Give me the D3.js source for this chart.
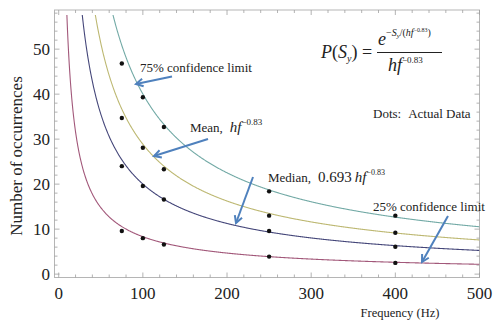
<!DOCTYPE html>
<html lang="en">
<head>
<meta charset="UTF-8">
<title>Occurrences vs Frequency</title>
<script src="https://d3js.org/d3.v7.min.js"></script>
<style>
  body { margin: 0; background: #fff; }
</style>
</head>
<body>
<svg id="chart"></svg>
<script>
// measured data (dots)
const freqs = [75, 100, 125, 250, 400];
const q75Dots = [46.8, 39.3, 32.7, 18.4, 13.0];
const meanDots = [34.7, 28.1, 23.3, 13.0, 9.2];
const medianDots = [24.0, 19.6, 16.6, 9.6, 6.1];
const q25Dots = [9.6, 8.0, 6.6, 3.9, 2.5];

// model curves: factor * h * f^-0.83
const h = 1320;
const expo = -0.83;
const curveNames = ["75%", "Mean", "Median", "25%"];
const curveFactors = [1.386, 1, 0.693, 0.288];
const curveColors = ["#73aaa6", "#bdb872", "#45477a", "#a2587a"];

const xTicks = [0, 100, 200, 300, 400, 500];
const yTicks = [0, 10, 20, 30, 40, 50];

const width = 493, height = 323;
const serif = "'Liberation Serif', 'Times New Roman', 'DejaVu Serif', serif";
const svg = d3.select("#chart").attr("width", width).attr("height", height)
  .attr("font-family", serif);

const x = d3.scaleLinear().domain([-5, 500]).range([54.5, 479.5]);
const y = d3.scaleLinear().domain([-0.75, 58.7]).range([277.5, 10]);

svg.append("defs").append("clipPath").attr("id", "plot")
  .append("rect")
    .attr("x", x(-5)).attr("y", y(57.6))
    .attr("width", x(500) - x(-5)).attr("height", y(-0.75) - y(57.6));

// frame
svg.append("rect")
  .attr("x", x(-5)).attr("y", y(58.7))
  .attr("width", x(500) - x(-5)).attr("height", y(-0.75) - y(58.7))
  .attr("fill", "none").attr("stroke", "#b5b5b5").attr("stroke-width", 1);

// ticks on all four sides, pointing inward
const tickColor = "#a0a0a0";
const xMinor = d3.range(0, 501, 20);
const yMinor = d3.range(0, 59, 2);
const tg = svg.append("g").attr("stroke", tickColor).attr("stroke-width", 0.8);
xMinor.forEach(v => {
  const len = v % 100 === 0 ? 5 : 3;
  tg.append("line").attr("x1", x(v)).attr("x2", x(v)).attr("y1", y(-0.75)).attr("y2", y(-0.75) - len);
  tg.append("line").attr("x1", x(v)).attr("x2", x(v)).attr("y1", y(58.7)).attr("y2", y(58.7) + len);
});
yMinor.forEach(v => {
  const len = v % 10 === 0 ? 5 : 3;
  tg.append("line").attr("y1", y(v)).attr("y2", y(v)).attr("x1", x(-5)).attr("x2", x(-5) + len);
  tg.append("line").attr("y1", y(v)).attr("y2", y(v)).attr("x1", x(500)).attr("x2", x(500) - len);
});

// tick labels
svg.selectAll(".xl").data(xTicks).join("text")
  .attr("x", d => x(d)).attr("y", 299)
  .attr("text-anchor", "middle").attr("font-size", 17).attr("fill", "#222")
  .text(d => d);
svg.selectAll(".yl").data(yTicks).join("text")
  .attr("x", 50).attr("y", d => y(d) + 6)
  .attr("text-anchor", "end").attr("font-size", 17).attr("fill", "#222")
  .text(d => d);

// axis titles
svg.append("text")
  .attr("transform", "translate(22,156) rotate(-90)")
  .attr("text-anchor", "middle").attr("font-size", 17).attr("fill", "#222")
  .text("Number of occurrences");
svg.append("text")
  .attr("x", 400).attr("y", 317)
  .attr("text-anchor", "middle").attr("font-size", 12.5).attr("fill", "#222")
  .text("Frequency (Hz)");

// curves
const fs = d3.range(4, 500.5, 0.5);
const line = d3.line().x(d => x(d[0])).y(d => y(d[1]));
const cg = svg.append("g").attr("clip-path", "url(#plot)");
curveFactors.forEach((k, i) => {
  const pts = fs.map(f => [f, k * h * Math.pow(f, expo)]).filter(p => p[1] < 80);
  cg.append("path")
    .attr("d", line(pts))
    .attr("fill", "none")
    .attr("stroke", curveColors[i])
    .attr("stroke-width", 1.1);
});

// dots
[q75Dots, meanDots, medianDots, q25Dots].forEach(series => {
  svg.append("g").selectAll("circle")
    .data(series.map((v, i) => [freqs[i], v]))
    .join("circle")
      .attr("cx", d => x(d[0])).attr("cy", d => y(d[1]))
      .attr("r", 2.2).attr("fill", "#111");
});

// annotation arrows: [tailX, tailY, tipX, tipY]
const arrowColor = "#4f81bd";
const arrows = [
  [172, 76.5, 136, 84],
  [208, 139, 154, 156],
  [253, 177, 236, 223],
  [448, 216, 422, 262]
];
arrows.forEach(a => {
  const ang = Math.atan2(a[1] - a[3], a[0] - a[2]);
  const hl = 8, spread = 0.5;
  const p1 = [a[2] + hl * Math.cos(ang + spread), a[3] + hl * Math.sin(ang + spread)];
  const p2 = [a[2] + hl * Math.cos(ang - spread), a[3] + hl * Math.sin(ang - spread)];
  svg.append("line")
    .attr("x1", a[0]).attr("y1", a[1]).attr("x2", a[2]).attr("y2", a[3])
    .attr("stroke", arrowColor).attr("stroke-width", 2);
  svg.append("path")
    .attr("d", `M${p1[0]},${p1[1]} L${a[2]},${a[3]} L${p2[0]},${p2[1]}`)
    .attr("fill", "none").attr("stroke", arrowColor).attr("stroke-width", 2)
    .attr("stroke-linejoin", "miter");
});

// labels
svg.append("text").attr("x", 140).attr("y", 72).attr("font-size", 13).attr("fill", "#222")
  .text("75% confidence limit");

const meanLbl = svg.append("text").attr("x", 190).attr("y", 132).attr("font-size", 13).attr("fill", "#222");
meanLbl.append("tspan").text("Mean,");
meanLbl.append("tspan").attr("dx", 7).attr("font-style", "italic").attr("font-size", 15).text("hf");
meanLbl.append("tspan").attr("dy", -7).attr("font-size", 9).text("\u22120.83");

const medLbl = svg.append("text").attr("x", 268).attr("y", 182).attr("font-size", 13).attr("fill", "#222");
medLbl.append("tspan").text("Median,");
medLbl.append("tspan").attr("dx", 7).attr("font-size", 15).text("0.693");
medLbl.append("tspan").attr("dx", 3).attr("font-style", "italic").attr("font-size", 15).text("hf");
medLbl.append("tspan").attr("dy", -7).attr("font-size", 8).text("\u22120.83");

svg.append("text").attr("x", 373).attr("y", 211).attr("font-size", 13).attr("fill", "#222")
  .text("25% confidence limit");

const dotsLbl = svg.append("text").attr("x", 373).attr("y", 118).attr("font-size", 13).attr("fill", "#222");
dotsLbl.append("tspan").text("Dots:");
dotsLbl.append("tspan").attr("dx", 7).text("Actual Data");

// formula
const lhs = svg.append("text").attr("x", 321).attr("y", 58).attr("font-size", 18).attr("fill", "#222");
lhs.append("tspan").attr("font-style", "italic").text("P");
lhs.append("tspan").text("(");
lhs.append("tspan").attr("font-style", "italic").text("S");
lhs.append("tspan").attr("font-size", 10).attr("dy", 4).attr("font-style", "italic").text("y");
lhs.append("tspan").attr("dy", -4).text(") =");

svg.append("line").attr("x1", 377).attr("x2", 442).attr("y1", 52.5).attr("y2", 52.5)
  .attr("stroke", "#222").attr("stroke-width", 1);

const num = svg.append("text").attr("x", 378).attr("y", 45).attr("font-size", 18).attr("fill", "#222");
num.append("tspan").attr("font-style", "italic").text("e");
num.append("tspan").attr("dy", -9).attr("font-size", 10).text("\u2212");
num.append("tspan").attr("font-size", 10).attr("font-style", "italic").text("S");
num.append("tspan").attr("font-size", 7).attr("dy", 2).attr("font-style", "italic").text("y");
num.append("tspan").attr("font-size", 10).attr("dy", -2).text("/(");
num.append("tspan").attr("font-size", 10).attr("font-style", "italic").text("hf");
num.append("tspan").attr("font-size", 6).attr("dy", -4).text("\u22120.83");
num.append("tspan").attr("font-size", 10).attr("dy", 4).text(")");

const den = svg.append("text").attr("x", 388).attr("y", 71).attr("font-size", 18).attr("fill", "#222");
den.append("tspan").attr("font-style", "italic").text("hf");
den.append("tspan").attr("dy", -8).attr("font-size", 9).text("\u22120.83");
</script>
</body>
</html>
